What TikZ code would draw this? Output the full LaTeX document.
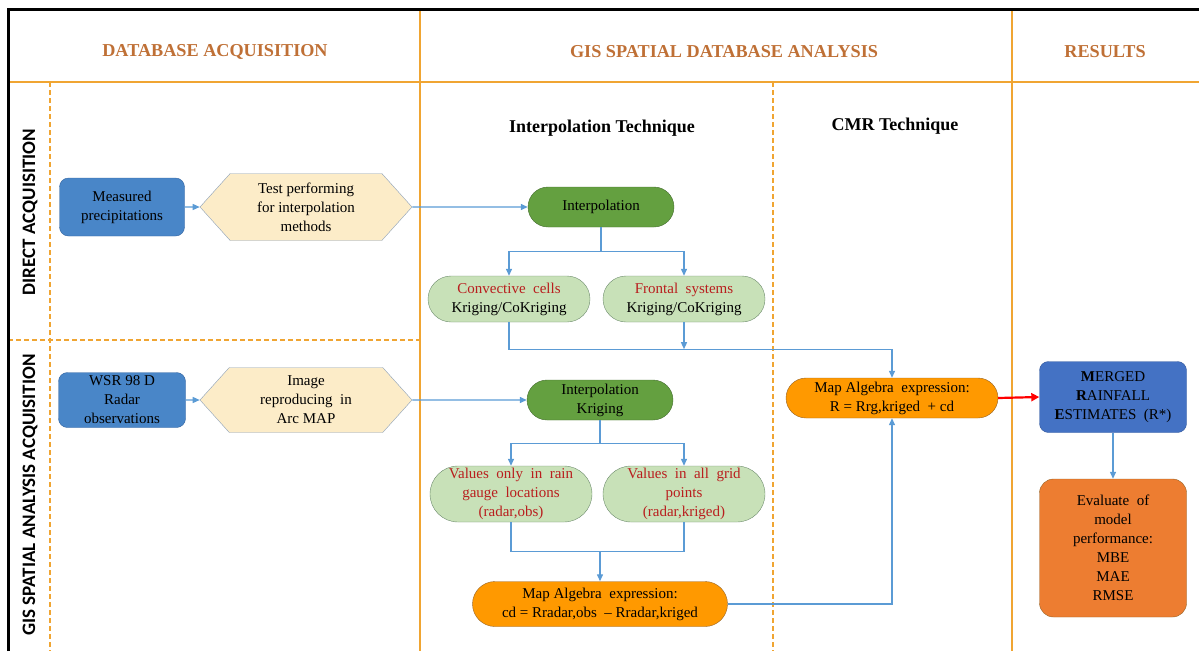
\documentclass[tikz,border=0pt]{standalone}
\usepackage{fontspec}
\setmainfont{Liberation Serif}
\newfontfamily\lanefont{Carlito}
\usetikzlibrary{shapes.misc,shapes.symbols,arrows.meta,positioning}
\definecolor{hdrorange}{RGB}{191,112,54}
\definecolor{laneorange}{RGB}{240,165,50}
\definecolor{linkblue}{RGB}{91,155,213}
\definecolor{boxblue}{RGB}{73,134,200}
\definecolor{boxblueline}{RGB}{52,100,160}
\definecolor{hexfill}{RGB}{252,236,200}
\definecolor{hexline}{RGB}{140,160,185}
\definecolor{darkgreen}{RGB}{100,160,64}
\definecolor{darkgreenline}{RGB}{70,110,50}
\definecolor{lightgreen}{RGB}{200,225,184}
\definecolor{lightgreenline}{RGB}{110,140,110}
\definecolor{algorange}{RGB}{255,153,0}
\definecolor{algline}{RGB}{150,100,40}
\definecolor{mergedblue}{RGB}{68,114,196}
\definecolor{evalorange}{RGB}{237,125,49}
\definecolor{redtext}{RGB}{185,30,30}
\tikzstyle{body} = [font=\fontsize{15}{19}\selectfont, align=center, inner sep=0pt]
\tikzstyle{block} = [body, rectangle, rounded corners=9pt, draw=boxblueline, fill=boxblue]
\tikzstyle{hexa} = [body, signal, signal to=east and west, signal pointer angle=96, draw=hexline, fill=hexfill, minimum width=212pt]
\tikzstyle{pill} = [body, rounded rectangle, draw=darkgreenline, fill=darkgreen, minimum width=146pt, minimum height=40pt]
\tikzstyle{softpill} = [body, rounded rectangle, draw=lightgreenline, fill=lightgreen, minimum width=162pt]
\tikzstyle{algebra} = [body, rounded rectangle, draw=algline, fill=algorange]
\tikzstyle{header} = [font=\fontsize{18.2}{20}\selectfont\bfseries, text=hdrorange]
\tikzstyle{subheader} = [font=\fontsize{18}{20}\selectfont\bfseries]
\tikzstyle{lanelabel} = [font=\fontsize{19}{20}\selectfont\lanefont\bfseries, rotate=90]
\tikzstyle{arrow} = [draw, linkblue, line width=1.3pt, -{Triangle[length=7pt,width=6pt]}]
\tikzstyle{line} = [draw, linkblue, line width=1.3pt, -]
\tikzstyle{redarrow} = [draw, red, line width=2.2pt, -{Triangle[length=8pt,width=8pt]}]
\tikzstyle{solidlane} = [draw, laneorange, line width=2.5pt]
\tikzstyle{dashlane} = [draw, laneorange, line width=1.4pt, dash pattern=on 5pt off 3pt]

\begin{document}
\begin{tikzpicture}[x=1pt, y=-1pt]
  \useasboundingbox (0,0) rectangle (1199,651);

  % lanes
  \path[solidlane] (8,82) -- (1199,82);
  \path[solidlane] (420,9) -- (420,651);
  \path[solidlane] (1012,9) -- (1012,651);
  \path[dashlane] (50,82) -- (50,651);
  \path[dashlane] (773,82) -- (773,651);
  \path[dashlane] (8,340) -- (420,340);
  \draw[line width=3pt] (8,651) -- (8,9) -- (1199,9);

  \node[header] (hacq) at (215,52) {DATABASE ACQUISITION};
  \node[header] (hgis) at (724,52) {GIS SPATIAL DATABASE ANALYSIS};
  \node[header] (hres) at (1105,52) {RESULTS};
  \node[lanelabel] (ldirect) at (30,212) {DIRECT ACQUISITION};
  \node[lanelabel] (lgis) at (30,495) {GIS SPATIAL ANALYSIS ACQUISITION};
  \node[subheader] (hinterp) at (602,128) {Interpolation Technique};
  \node[subheader] (hcmr) at (895,126) {CMR Technique};

  % upper lane
  \node[block, minimum width=125pt, minimum height=58pt] (meas) at (122,207) {Measured\\precipitations};
  \node[hexa, minimum height=67pt, right of=meas, node distance=184pt] (test) {Test performing\\for interpolation\\methods};
  \node[pill, right of=test, node distance=295pt] (interp) {Interpolation};
  \node[softpill, minimum height=46pt] (conv) at (509,299) {\textcolor{redtext}{Convective\ \ cells}\\Kriging/CoKriging};
  \node[softpill, minimum height=46pt] (front) at (684,299) {\textcolor{redtext}{Frontal\ \ systems}\\Kriging/CoKriging};

  % lower lane
  \node[block, minimum width=127pt, minimum height=55pt] (radar) at (122,400) {WSR 98 D\\Radar\\observations};
  \node[hexa, minimum height=65pt, right of=radar, node distance=184pt] (image) {Image\\reproducing\ \ in\\Arc MAP};
  \node[pill, right of=image, node distance=294pt] (kriging) {Interpolation\\Kriging};
  \node[softpill, minimum height=56pt, text=redtext] (vobs) at (511,494) {Values\ \ only\ \ in\ \ rain\\gauge\ \ locations\\(radar,obs)};
  \node[softpill, minimum height=56pt, text=redtext] (vall) at (684,494) {Values\ \ in\ \ all\ \ grid\\points\\(radar,kriged)};
  \node[algebra, minimum width=255pt, minimum height=45pt] (cd) at (600,604) {Map Algebra\ \ expression:\\cd = Rradar,obs\ \ -- Rradar,kriged};
  \node[algebra, minimum width=212pt, minimum height=40pt] (mapR) at (892,398) {Map Algebra\ \ expression:\\R = Rrg,kriged\ \ + cd};

  % results
  \node[block, draw=mergedblue!80!black, fill=mergedblue, minimum width=147pt, minimum height=71pt] (merged) at (1113,397) {\textbf{M}ERGED\\\textbf{R}AINFALL\\\textbf{E}STIMATES\ \ (R*)};
  \node[block, rounded corners=14pt, draw=algline, fill=evalorange, minimum width=147pt, minimum height=138pt] (eval) at (1113,548) {Evaluate\ \ of\\model\\performance:\\MBE\\MAE\\RMSE};

  % connectors
  \path[arrow] (meas) -- (test);
  \path[arrow] (test) -- (interp);
  \path[line] (interp.south) -- ++(0,24) coordinate (split1);
  \path[arrow] (split1) -| (conv.north);
  \path[arrow] (split1) -| (front.north);
  \path[arrow] (conv.south) -- ++(0,27) coordinate (join1) -| (mapR.north);
  \path[arrow] (front.south) -- (front.south |- join1);

  \path[arrow] (radar) -- (image);
  \path[arrow] (image) -- (kriging);
  \path[line] (kriging.south) -- ++(0,23) coordinate (split2);
  \path[arrow] (split2) -| (vobs.north);
  \path[arrow] (split2) -| (vall.north);
  \path[line] (vobs.south) -- ++(0,29) coordinate (join2) -| (vall.south);
  \path[arrow] (cd.north |- join2) -- (cd.north);
  \path[arrow] (cd.east) -| (mapR.south);

  \path[redarrow] (mapR.east) -- (merged.west);
  \path[arrow] (merged) -- (eval);

\end{tikzpicture}
\end{document}
